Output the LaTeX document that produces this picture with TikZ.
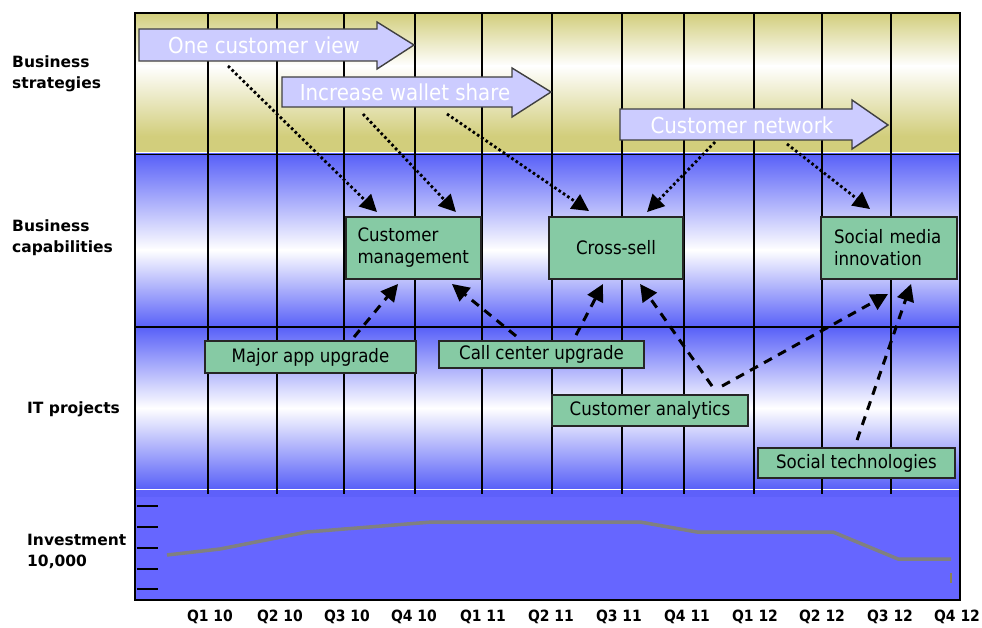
\documentclass[tikz,border=0pt]{standalone}
\usepackage{fontspec}
\setmainfont{DejaVu Sans}
\newfontfamily\condfont{DejaVu Sans Condensed}
\usetikzlibrary{arrows.meta}
\definecolor{stratolive}{RGB}{210,206,124}
\definecolor{bandblue}{RGB}{88,96,248}
\definecolor{investblue}{RGB}{102,102,255}
\definecolor{investtop}{RGB}{94,96,250}
\definecolor{arrowfill}{RGB}{204,204,255}
\definecolor{boxgreen}{RGB}{134,202,164}
\definecolor{trendgray}{RGB}{128,128,128}
\definecolor{markgray}{RGB}{140,130,80}

\begin{document}
\begin{tikzpicture}[x=1pt,y=-1pt,
  gridline/.style={black,line width=1.7pt},
  bandrule/.style={black,line width=1.4pt},
  stratarrow/.style={fill=arrowfill,draw=black!75,line width=1.4pt,line join=miter},
  strattext/.style={text=white,font=\condfont\fontsize{22}{26}\selectfont,inner sep=0pt},
  capbox/.style={draw=black!85,fill=boxgreen,line width=1.9pt,minimum height=62pt,
    font=\condfont\fontsize{18.5}{22}\selectfont},
  projbox/.style={draw=black!85,fill=boxgreen,line width=1.9pt,inner sep=0pt,
    font=\condfont\fontsize{18.5}{22}\selectfont},
  dotconn/.style={line width=2.8pt,dash pattern=on 2.6pt off 2.6pt,
    -{Triangle[length=17pt,width=17pt]}},
  dashconn/.style={line width=3pt,dash pattern=on 9pt off 7pt,
    -{Triangle[length=17pt,width=17pt]}},
  rowlabel/.style={font=\bfseries\fontsize{15.5}{21}\selectfont,align=left,
    inner sep=0pt,anchor=west},
  qlabel/.style={font=\condfont\bfseries\fontsize{15.5}{18}\selectfont,inner sep=0pt},
]
\useasboundingbox (0,0) rectangle (982,628);
\fill[white] (0,0) rectangle (982,628);

% ---- swim-lane backgrounds ----
% business strategies
\shade[top color=stratolive,bottom color=white] (136,13) rectangle (959,66);
\shade[top color=white,bottom color=stratolive] (136,66) rectangle (959,136);
\fill[stratolive] (136,136) rectangle (959,152);
\fill[white] (136,152) rectangle (959,154);
% business capabilities
\shade[top color=bandblue,bottom color=white] (136,154) rectangle (959,250);
\shade[top color=white,bottom color=bandblue] (136,250) rectangle (959,327);
% IT projects
\shade[top color=bandblue,bottom color=white] (136,327) rectangle (959,408);
\shade[top color=white,bottom color=bandblue] (136,408) rectangle (959,489);
% investment
\fill[investblue] (136,489) rectangle (959,600);
\fill[investtop] (136,490) rectangle (959,497);
\draw[white,line width=1.4pt] (136,489.5) -- (959,489.5);

\draw[bandrule] (136,154.5) -- (959,154.5);
\draw[bandrule] (136,327) -- (959,327);

% quarter grid
\foreach \gx in {208,277,344,415,482,552,622,684,754,822,891}
  \draw[gridline] (\gx,13) -- (\gx,494);

% outer frame
\draw[line width=2.4pt] (135,13) rectangle (960,600);

% investment axis ticks
\foreach \ty in {506,527,548,569,589}
  \draw[line width=2.8pt] (137,\ty) -- (158,\ty);

% investment trend
\draw[trendgray,line width=3.5pt,line join=round]
  (167,555) -- (220,549) -- (307,532) -- (432,522) -- (640,522)
  -- (697,532) -- (833,532) -- (898,559) -- (951,559);
\draw[markgray,line width=1.5pt] (951,573) -- (951,583);

% ---- strategy arrows ----
\draw[stratarrow] (139,29) -- (377,29) -- (377,22) -- (414,45) -- (377,69)
  -- (377,61) -- (139,61) -- cycle;
\node[strattext] (ocv) at (264,45) {One customer view};
\draw[stratarrow] (282,77) -- (512,77) -- (512,68) -- (551,92) -- (512,117)
  -- (512,107) -- (282,107) -- cycle;
\node[strattext] (iws) at (405,92) {Increase wallet share};
\draw[stratarrow] (620,109) -- (852,109) -- (852,100) -- (888,125) -- (852,149)
  -- (852,140) -- (620,140) -- cycle;
\node[strattext] (cnw) at (742,125) {Customer network};

\coordinate (ocv-a) at (228,66);
\coordinate (iws-a) at (363,114);
\coordinate (iws-b) at (447,114);
\coordinate (cnw-a) at (715,142);
\coordinate (cnw-b) at (787,144);

% ---- business capabilities ----
\node[capbox,text width=112pt,align=left,inner xsep=11.5pt] (cm) at (413.5,248)
  {Customer\\management};
\node[capbox,minimum width=134pt] (cs) at (616,248) {Cross-sell};
\node[capbox,text width=110pt,align=left,inner xsep=13pt] (smi) at (889,248)
  {Social media\\innovation};

% ---- IT projects ----
\node[projbox,minimum width=211pt,minimum height=32pt] (mau) at (310.5,357) {Major app upgrade};
\node[projbox,minimum width=205pt,minimum height=27pt] (ccu) at (541.5,354.5) {Call center upgrade};
\node[projbox,minimum width=196pt,minimum height=31pt] (ca) at (650,410.5) {Customer analytics};
\node[projbox,minimum width=197pt,minimum height=30pt] (st) at (856.5,463) {Social technologies};

% ---- strategy -> capability links ----
\draw[dotconn] (ocv-a) -- ([xshift=32pt,yshift=4pt]cm.north west);
\draw[dotconn] (iws-a) -- ([xshift=-26pt,yshift=4pt]cm.north east);
\draw[dotconn] (iws-b) -- ([xshift=41pt,yshift=5pt]cs.north west);
\draw[dotconn] (cnw-a) -- ([xshift=99pt,yshift=4pt]cs.north west);
\draw[dotconn] (cnw-b) -- ([xshift=50pt,yshift=7pt]smi.north west);

% ---- project -> capability links ----
\draw[dashconn] ([xshift=150pt,yshift=3pt]mau.north west) -- ([xshift=53pt,yshift=-4pt]cm.south west);
\draw[dashconn] ([xshift=78pt,yshift=4pt]ccu.north west) -- ([xshift=-30pt,yshift=-4pt]cm.south east);
\draw[dashconn] ([xshift=138pt,yshift=5pt]ccu.north west) -- ([xshift=55pt,yshift=-4pt]cs.south west);
\draw[dashconn] ([xshift=161pt,yshift=8pt]ca.north west) -- ([xshift=92pt,yshift=-4pt]cs.south west);
\draw[dashconn] ([xshift=171pt,yshift=8pt]ca.north west) -- ([xshift=68pt,yshift=-14pt]smi.south west);
\draw[dashconn] ([xshift=100pt,yshift=7pt]st.north west) -- ([xshift=91pt,yshift=-4pt]smi.south west);

% ---- row labels ----
\node[rowlabel] (lbl-strat) at (12,73.5) {Business\\strategies};
\node[rowlabel] (lbl-cap) at (12,238) {Business\\capabilities};
\node[rowlabel] (lbl-it) at (27,409) {IT projects};
\node[rowlabel] (lbl-inv) at (27,551.5) {Investment\\10,000};

% ---- quarter labels ----
\foreach \lx/\lt [count=\i] in {210/Q1 10,280/Q2 10,347/Q3 10,414/Q4 10,483/Q1 11,
    551/Q2 11,619/Q3 11,687/Q4 11,755/Q1 12,822/Q2 12,890/Q3 12,957/Q4 12}
  \node[qlabel] (q\i) at (\lx,617) {\lt};
\end{tikzpicture}
\end{document}
